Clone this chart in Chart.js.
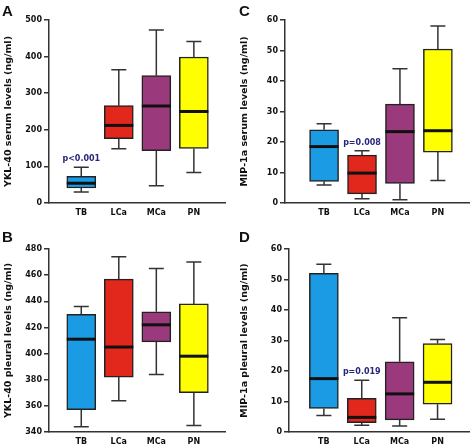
<!DOCTYPE html>
<html>
<head>
<meta charset="utf-8">
<script src="https://cdn.jsdelivr.net/npm/chart.js@4.4.1/dist/chart.umd.min.js"></script>
<style>
  html, body { margin: 0; padding: 0; background: #ffffff; }
  #wrap { position: relative; width: 472px; height: 448px; overflow: hidden; }
  .panel { position: absolute; width: 236px; height: 224px; }
  .letter { position: absolute; font-family: "Liberation Sans", Arial, sans-serif; font-weight: bold; font-size: 15px; color: #111; line-height: 1; }
</style>
</head>
<body>
<div id="wrap">
  <div class="panel" style="left:0;top:0"><canvas id="cA" width="236" height="224"></canvas></div>
  <div class="panel" style="left:236px;top:0"><canvas id="cC" width="236" height="224"></canvas></div>
  <div class="panel" style="left:0;top:224px"><canvas id="cB" width="236" height="224"></canvas></div>
  <div class="panel" style="left:236px;top:224px"><canvas id="cD" width="236" height="224"></canvas></div>
  <div class="letter" style="left:2px;top:3px">A</div>
  <div class="letter" style="left:239px;top:3px">C</div>
  <div class="letter" style="left:2px;top:229px">B</div>
  <div class="letter" style="left:239px;top:229px">D</div>
</div>
<script>
// ---- data ----
const categories = ['TB', 'LCa', 'MCa', 'PN'];
const groupColors = ['#1b9be3', '#e2271d', '#9a3a7c', '#ffff00'];

// Panel A: YKL-40 serum levels (ng/ml)
const aMin = [30, 148, 47, 83];
const aQ1  = [41, 176, 143, 149];
const aMed = [54, 212, 265, 250];
const aQ3  = [73, 266, 348, 399];
const aMax = [98, 364, 473, 441];
const aP   = ['p<0.001', '', '', ''];
const aTicks = [0, 100, 200, 300, 400, 500];

// Panel B: YKL-40 pleural levels (ng/ml)
const bMin = [344, 364, 384, 345];
const bQ1  = [357, 382, 409, 370];
const bMed = [411, 405, 422, 398];
const bQ3  = [430, 457, 432, 438];
const bMax = [436, 474, 465, 470];
const bP   = ['', '', '', ''];
const bTicks = [340, 360, 380, 400, 420, 440, 460, 480];

// Panel C: MIP-1a serum levels (ng/ml)
const cMin = [5.9, 1.4, 1.1, 7.4];
const cQ1  = [7.1, 3.0, 6.4, 16.7];
const cMed = [18.5, 9.8, 23.4, 23.7];
const cQ3  = [24, 15.7, 32.4, 50.5];
const cMax = [26, 17.1, 44, 58];
const cP   = ['', 'p=0.008', '', ''];
const cTicks = [0, 10, 20, 30, 40, 50, 60];

// Panel D: MIP-1a pleural levels (ng/ml)
const dMin = [5.4, 2.2, 2, 4.2];
const dQ1  = [7.7, 3.1, 4, 9.1];
const dMed = [17.5, 4.8, 12.5, 16.3];
const dQ3  = [52, 11, 23, 29];
const dMax = [55, 17, 37.5, 30.3];
const dP   = ['', 'p=0.019', '', ''];
const dTicks = [0, 10, 20, 30, 40, 50, 60];

// ---- drawing ----
const FONT = "'DejaVu Sans', Verdana, sans-serif";

const boxPlugin = {
  id: 'boxWhiskers',
  afterDatasetsDraw(chart, args, opts) {
    const { ctx } = chart;
    const y = chart.scales.y;
    const meta = chart.getDatasetMeta(0);
    ctx.save();
    meta.data.forEach((bar, i) => {
      const cx = bar.x;
      const half = bar.width / 2;
      const capHalf = 7.5;
      const pMin = y.getPixelForValue(opts.min[i]);
      const pQ1 = y.getPixelForValue(opts.q1[i]);
      const pQ3 = y.getPixelForValue(opts.q3[i]);
      const pMax = y.getPixelForValue(opts.max[i]);
      const pMed = y.getPixelForValue(opts.med[i]);
      ctx.strokeStyle = '#333333';
      ctx.lineWidth = 1.5;
      ctx.beginPath();
      ctx.moveTo(cx, pQ3); ctx.lineTo(cx, pMax);
      ctx.moveTo(cx - capHalf, pMax); ctx.lineTo(cx + capHalf, pMax);
      ctx.moveTo(cx, pQ1); ctx.lineTo(cx, pMin);
      ctx.moveTo(cx - capHalf, pMin); ctx.lineTo(cx + capHalf, pMin);
      ctx.stroke();
      ctx.strokeStyle = '#111111';
      ctx.lineWidth = 3;
      ctx.beginPath();
      ctx.moveTo(cx - half, pMed); ctx.lineTo(cx + half, pMed);
      ctx.stroke();
      if (opts.p[i]) {
        ctx.fillStyle = '#27267a';
        ctx.font = 'bold 8px ' + FONT;
        ctx.textAlign = 'center';
        ctx.textBaseline = 'bottom';
        ctx.fillText(opts.p[i], cx, pMax - 4);
      }
    });
    ctx.restore();
  }
};

function makeChart(id, cfg) {
  const data = categories.map((c, i) => ({ x: i, y: [cfg.q1[i], cfg.q3[i]] }));
  return new Chart(document.getElementById(id), {
    type: 'bar',
    data: {
      datasets: [{
        data: data,
        backgroundColor: groupColors,
        borderColor: '#222222',
        borderWidth: 1.5,
        borderSkipped: false,
        barThickness: 29
      }]
    },
    options: {
      responsive: false,
      animation: false,
      devicePixelRatio: 1,
      layout: { padding: { left: 0, right: cfg.right, top: cfg.top, bottom: 0 } },
      plugins: {
        legend: { display: false },
        tooltip: { enabled: false },
        boxWhiskers: { min: cfg.min, q1: cfg.q1, med: cfg.med, q3: cfg.q3, max: cfg.max, p: cfg.p }
      },
      scales: {
        x: {
          type: 'linear',
          offset: false,
          min: cfg.xmin,
          max: cfg.xmax,
          grid: { display: false, drawTicks: false, tickLength: 0 },
          border: { display: true, color: '#333333', width: 1.5 },
          afterBuildTicks: (scale) => { scale.ticks = categories.map((c, i) => ({ value: i })); },
          ticks: {
            autoSkip: false,
            maxRotation: 0,
            padding: 5,
            color: '#111111',
            font: { family: FONT, weight: 'bold', size: 8 },
            callback: (v) => categories[v] !== undefined ? categories[v] : ''
          },
          afterFit: (scale) => { scale.height = cfg.xh; }
        },
        y: {
          min: cfg.ticks[0],
          max: cfg.ticks[cfg.ticks.length - 1],
          afterBuildTicks: (scale) => { scale.ticks = cfg.ticks.map(v => ({ value: v })); },
          grid: { display: true, drawOnChartArea: false, drawTicks: true, tickLength: 5, color: '#333333', lineWidth: 1.5 },
          border: { display: true, color: '#333333', width: 1.5 },
          ticks: {
            padding: 2,
            color: '#111111',
            font: { family: FONT, weight: 'bold', size: 8 }
          },
          title: {
            display: true,
            text: cfg.title,
            color: '#111111',
            font: { family: FONT, weight: 'bold', size: 9.5 },
            padding: { top: 3, bottom: 0 }
          },
          afterFit: (scale) => { scale.width = cfg.yw; }
        }
      }
    },
    plugins: [boxPlugin]
  });
}

makeChart('cA', { min: aMin, q1: aQ1, med: aMed, q3: aQ3, max: aMax, p: aP, ticks: aTicks,
  title: 'YKL-40 serum levels (ng/ml)', top: 20, xh: 21, yw: 49, right: 11, xmin: -0.86, xmax: 3.83 });
makeChart('cC', { min: cMin, q1: cQ1, med: cMed, q3: cQ3, max: cMax, p: cP, ticks: cTicks,
  title: 'MIP-1a serum levels (ng/ml)', top: 20, xh: 21, yw: 49, right: 3, xmin: -1.03, xmax: 3.82 });
makeChart('cB', { min: bMin, q1: bQ1, med: bMed, q3: bQ3, max: bMax, p: bP, ticks: bTicks,
  title: 'YKL-40 pleural levels (ng/ml)', top: 25, xh: 16, yw: 49, right: 11, xmin: -0.86, xmax: 3.83 });
makeChart('cD', { min: dMin, q1: dQ1, med: dMed, q3: dQ3, max: dMax, p: dP, ticks: dTicks,
  title: 'MIP-1a pleural levels (ng/ml)', top: 25, xh: 16, yw: 53, right: 3, xmin: -0.92, xmax: 3.83 });
</script>
</body>
</html>
